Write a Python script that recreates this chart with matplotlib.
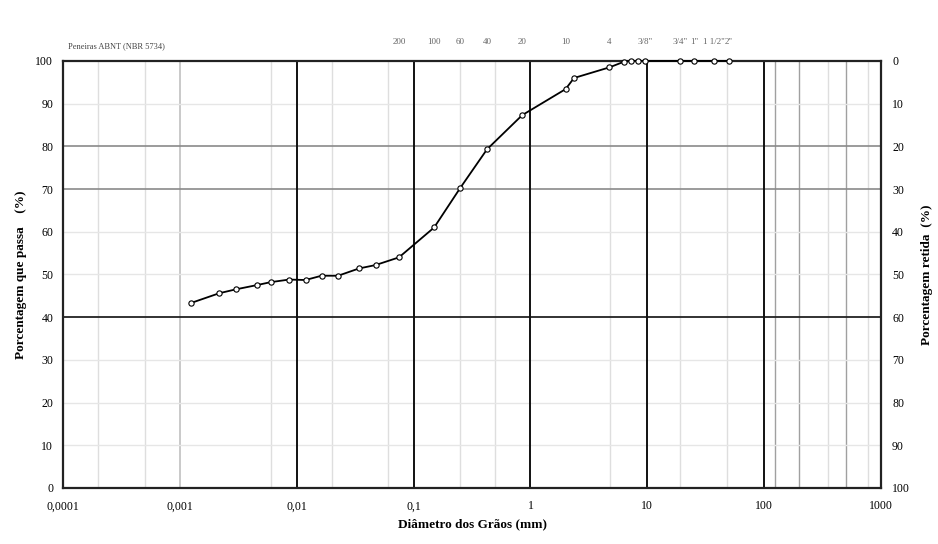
import matplotlib
matplotlib.use("Agg")
import matplotlib.pyplot as plt

# ---- data ----
diameters = [0.00124, 0.00217, 0.0030, 0.00455, 0.0060, 0.0086, 0.0119, 0.0163,
             0.0226, 0.0341, 0.0473, 0.075, 0.15, 0.25, 0.425, 0.85, 2.0, 2.36,
             4.75, 6.3, 7.2, 8.4, 9.5, 19.0, 25.0, 37.5, 50.0]
passing = [43.3, 45.6, 46.5, 47.5, 48.2, 48.8, 48.7, 49.7,
           49.7, 51.4, 52.2, 54.0, 61.0, 70.2, 79.3, 87.3, 93.4, 96.0,
           98.5, 99.8, 100.0, 100.0, 100.0, 100.0, 100.0, 100.0, 100.0]

x_ticks = [0.0001, 0.001, 0.01, 0.1, 1, 10, 100, 1000]
x_tick_labels = ["0,0001", "0,001", "0,01", "0,1", "1", "10", "100", "1000"]
y_ticks = [0, 10, 20, 30, 40, 50, 60, 70, 80, 90, 100]

decade_lines = [0.01, 0.1, 1, 10, 100]
mid_vlines = [0.001]
light_vlines = [0.0002, 0.0005, 0.006, 0.02, 0.06, 0.25, 0.5, 4.8, 19, 48, 350, 770]
gray_vlines = [124, 200, 500]
light_hlines = [10, 20, 30, 50, 60, 90]
gray_hlines = [70, 80]
dark_hlines = [40]

sieve_sizes = [0.075, 0.15, 0.25, 0.425, 0.85, 2.0, 4.75, 9.5, 19.0, 25.0, 37.5, 50.0]
sieve_names = ["200", "100", "60", "40", "20", "10", "4", "3/8\"", "3/4\"", "1\"", "1 1/2\"", "2\""]

plt.rcParams['font.family'] = ['Liberation Serif', 'DejaVu Serif']

fig = plt.figure(figsize=(9.38, 5.44), dpi=100)
ax = fig.add_axes([0.0672, 0.103, 0.872, 0.785])

ax.set_xscale('log')
ax.set_xlim(0.0001, 1000)
ax.set_ylim(0, 100)

for v in light_vlines:
    ax.axvline(v, color='#dedede', lw=1.0, zorder=1)
for v in gray_vlines:
    ax.axvline(v, color='#a0a0a0', lw=1.0, zorder=1)
for v in mid_vlines:
    ax.axvline(v, color='#c0c0c0', lw=1.2, zorder=1)
for h in light_hlines:
    ax.axhline(h, color='#e6e6e6', lw=1.0, zorder=1)
for h in gray_hlines:
    ax.axhline(h, color='#8a8a8a', lw=1.2, zorder=1)
for h in dark_hlines:
    ax.axhline(h, color='#222222', lw=1.3, zorder=2)
for v in decade_lines:
    ax.axvline(v, color='#111111', lw=1.4, zorder=2)

ax.plot(diameters, passing, color='black', lw=1.3, marker='o', markersize=3.8,
        markerfacecolor='white', markeredgecolor='black', markeredgewidth=0.8, zorder=5,
        clip_on=False)

ax.set_xticks(x_ticks)
ax.set_xticklabels(x_tick_labels)
ax.xaxis.set_minor_locator(matplotlib.ticker.NullLocator())
ax.set_yticks(y_ticks)
ax.tick_params(axis='both', length=0, labelsize=8.5, pad=7)
ax.tick_params(axis='x', pad=9)

for s in ax.spines.values():
    s.set_linewidth(1.6)
    s.set_color('#222222')

ax.set_xlabel("Diâmetro dos Grãos (mm)", fontsize=9.5, fontweight='bold', labelpad=4)
ax.set_ylabel("Porcentagem que passa    (%)", fontsize=9.5, fontweight='bold', labelpad=6)

ax2 = ax.twinx()
ax2.set_ylim(100, 0)
ax2.set_yticks(y_ticks)
ax2.tick_params(axis='y', length=0, labelsize=8.5, pad=8)
ax2.set_ylabel("Porcentagem retida  (%)", fontsize=9.5, fontweight='bold', labelpad=8)
for s in ax2.spines.values():
    s.set_visible(False)

ax.text(0.00011, 102.5, "Peneiras ABNT (NBR 5734)", fontsize=6, color='#444444',
        ha='left', va='bottom')
for d, n in zip(sieve_sizes, sieve_names):
    ax.text(d, 103.5, n, fontsize=6.5, color='#666666', ha='center', va='bottom')

fig.savefig("out.png", dpi=100)
